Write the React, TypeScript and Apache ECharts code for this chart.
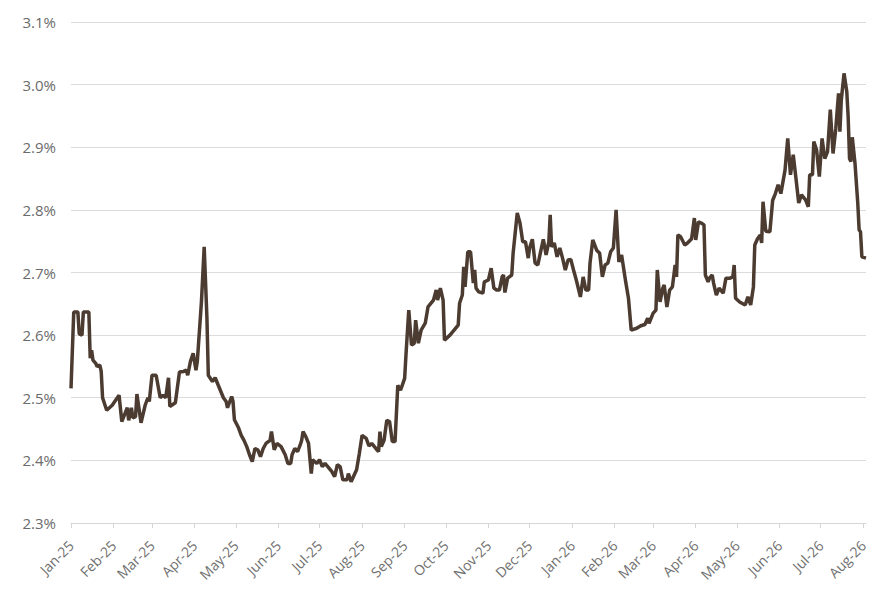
import React, { useEffect, useRef } from "react";
import * as echarts from "echarts";

const DATES: string[] = [
  "2025-01-01","2025-01-03","2025-01-06","2025-01-07","2025-01-09","2025-01-10","2025-01-14","2025-01-15","2025-01-16","2025-01-17",
  "2025-01-19","2025-01-20","2025-01-22","2025-01-23","2025-01-24","2025-01-27","2025-01-31","2025-02-05","2025-02-07","2025-02-11",
  "2025-02-12","2025-02-14","2025-02-15","2025-02-17","2025-02-18","2025-02-21","2025-02-24","2025-02-26","2025-02-27","2025-03-01",
  "2025-03-04","2025-03-07","2025-03-09","2025-03-11","2025-03-13","2025-03-14","2025-03-18","2025-03-21","2025-03-24","2025-03-26",
  "2025-03-27","2025-03-29","2025-03-31","2025-04-02","2025-04-03","2025-04-06","2025-04-08","2025-04-10","2025-04-11","2025-04-14",
  "2025-04-16","2025-04-19","2025-04-22","2025-04-24","2025-04-25","2025-04-28","2025-04-29","2025-04-30","2025-05-03","2025-05-05",
  "2025-05-07","2025-05-09","2025-05-11","2025-05-13","2025-05-15","2025-05-17","2025-05-19","2025-05-21","2025-05-23","2025-05-26",
  "2025-05-27","2025-05-29","2025-05-31","2025-06-03","2025-06-06","2025-06-08","2025-06-10","2025-06-11","2025-06-13","2025-06-15",
  "2025-06-17","2025-06-18","2025-06-19","2025-06-21","2025-06-23","2025-06-25","2025-06-26","2025-06-29","2025-07-01","2025-07-03",
  "2025-07-05","2025-07-07","2025-07-10","2025-07-12","2025-07-14","2025-07-16","2025-07-18","2025-07-21","2025-07-22","2025-07-24",
  "2025-07-28","2025-07-30","2025-08-01","2025-08-04","2025-08-06","2025-08-08","2025-08-11","2025-08-13","2025-08-14","2025-08-15",
  "2025-08-17","2025-08-19","2025-08-21","2025-08-23","2025-08-25","2025-08-27","2025-08-29","2025-09-01","2025-09-02","2025-09-04",
  "2025-09-06","2025-09-08","2025-09-09","2025-09-11","2025-09-13","2025-09-16","2025-09-18","2025-09-22","2025-09-24","2025-09-25",
  "2025-09-27","2025-09-29","2025-09-30","2025-10-04","2025-10-10","2025-10-11","2025-10-13","2025-10-14","2025-10-15","2025-10-17",
  "2025-10-19","2025-10-21","2025-10-22","2025-10-23","2025-10-25","2025-10-28","2025-10-29","2025-11-01","2025-11-03","2025-11-05",
  "2025-11-07","2025-11-09","2025-11-11","2025-11-12","2025-11-13","2025-11-15","2025-11-18","2025-11-19","2025-11-22","2025-11-24",
  "2025-11-26","2025-11-28","2025-11-30","2025-12-01","2025-12-03","2025-12-05","2025-12-07","2025-12-09","2025-12-11","2025-12-13",
  "2025-12-15","2025-12-16","2025-12-17","2025-12-19","2025-12-21","2025-12-23","2025-12-25","2025-12-27","2025-12-29","2025-12-31",
  "2026-01-02","2026-01-04","2026-01-07","2026-01-09","2026-01-11","2026-01-13","2026-01-14","2026-01-16","2026-01-19","2026-01-21",
  "2026-01-23","2026-01-25","2026-01-27","2026-01-29","2026-01-31","2026-02-02","2026-02-04","2026-02-06","2026-02-09","2026-02-11",
  "2026-02-13","2026-02-17","2026-02-20","2026-02-23","2026-02-25","2026-02-26","2026-03-01","2026-03-03","2026-03-04","2026-03-06",
  "2026-03-08","2026-03-09","2026-03-11","2026-03-13","2026-03-15","2026-03-17","2026-03-18","2026-03-19","2026-03-21","2026-03-24",
  "2026-03-26","2026-03-29","2026-03-31","2026-04-01","2026-04-03","2026-04-05","2026-04-07","2026-04-08","2026-04-10","2026-04-11",
  "2026-04-13","2026-04-14","2026-04-16","2026-04-18","2026-04-21","2026-04-23","2026-04-26","2026-04-28","2026-04-29","2026-04-30",
  "2026-05-03","2026-05-07","2026-05-09","2026-05-11","2026-05-13","2026-05-14","2026-05-16","2026-05-18","2026-05-19","2026-05-20",
  "2026-05-22","2026-05-25","2026-05-27","2026-05-29","2026-05-31","2026-06-02","2026-06-05","2026-06-07","2026-06-09","2026-06-11",
  "2026-06-13","2026-06-15","2026-06-17","2026-06-20","2026-06-22","2026-06-23","2026-06-25","2026-06-26","2026-06-28","2026-06-30",
  "2026-07-02","2026-07-04","2026-07-06","2026-07-08","2026-07-10","2026-07-12","2026-07-14","2026-07-15","2026-07-16","2026-07-18",
  "2026-07-20","2026-07-21","2026-07-22","2026-07-23","2026-07-24","2026-07-26","2026-07-28","2026-07-29","2026-07-30","2026-07-31",
  "2026-08-03",
];

const VALUES: number[] = [
  2.515,2.637,2.637,2.602,2.600,2.637,2.637,2.563,2.576,2.560,
  2.555,2.550,2.552,2.542,2.500,2.480,2.488,2.504,2.462,2.484,
  2.464,2.484,2.468,2.470,2.506,2.460,2.488,2.500,2.494,2.536,
  2.536,2.500,2.504,2.500,2.532,2.486,2.492,2.541,2.542,2.544,
  2.536,2.558,2.571,2.544,2.558,2.653,2.741,2.627,2.536,2.526,
  2.532,2.516,2.500,2.494,2.484,2.502,2.494,2.465,2.452,2.440,
  2.432,2.422,2.409,2.398,2.419,2.417,2.406,2.419,2.427,2.432,
  2.446,2.417,2.427,2.422,2.409,2.395,2.395,2.409,2.419,2.414,
  2.425,2.432,2.446,2.438,2.427,2.379,2.401,2.395,2.401,2.390,
  2.395,2.390,2.382,2.374,2.393,2.390,2.369,2.369,2.379,2.366,
  2.385,2.411,2.440,2.435,2.423,2.427,2.419,2.414,2.446,2.422,
  2.432,2.464,2.462,2.430,2.430,2.520,2.512,2.531,2.570,2.640,
  2.584,2.587,2.624,2.587,2.608,2.619,2.645,2.656,2.672,2.656,
  2.675,2.656,2.592,2.600,2.616,2.651,2.664,2.709,2.677,2.733,
  2.733,2.683,2.704,2.675,2.669,2.667,2.685,2.688,2.707,2.675,
  2.672,2.672,2.693,2.696,2.668,2.691,2.696,2.731,2.795,2.779,
  2.749,2.749,2.723,2.739,2.753,2.715,2.712,2.733,2.753,2.728,
  2.749,2.792,2.741,2.747,2.725,2.739,2.723,2.704,2.720,2.721,
  2.704,2.688,2.661,2.693,2.672,2.672,2.715,2.752,2.735,2.731,
  2.693,2.712,2.715,2.733,2.739,2.800,2.717,2.728,2.685,2.659,
  2.608,2.611,2.615,2.617,2.627,2.619,2.635,2.640,2.704,2.653,
  2.675,2.680,2.645,2.672,2.677,2.712,2.693,2.760,2.757,2.744,
  2.747,2.754,2.787,2.752,2.781,2.779,2.776,2.696,2.685,2.691,
  2.696,2.683,2.664,2.675,2.667,2.691,2.691,2.693,2.712,2.659,
  2.653,2.648,2.661,2.648,2.677,2.744,2.754,2.760,2.747,2.813,
  2.766,2.765,2.815,2.826,2.840,2.826,2.863,2.914,2.856,2.888,
  2.850,2.811,2.824,2.816,2.805,2.856,2.856,2.909,2.896,2.853,
  2.914,2.882,2.893,2.960,2.890,2.930,2.986,2.925,2.975,3.018,
  2.989,2.949,2.882,2.877,2.916,2.874,2.811,2.768,2.765,2.725,
  2.723,
];

const MONTH_LABELS: string[] = ["Jan","Feb","Mar","Apr","May","Jun","Jul","Aug","Sep","Oct","Nov","Dec"];
const Y_MIN = 2.3;
const Y_MAX = 3.1;
const Y_STEP = 0.1;

export default function App() {
  const ref = useRef<HTMLDivElement>(null);
  useEffect(() => {
    document.body.style.margin = "0";
    if (!ref.current) return;
    const chart = echarts.init(ref.current, undefined, { renderer: "svg" });
    const DAY = 86400000;
    chart.setOption({
      animation: false,
      backgroundColor: "#ffffff",
      textStyle: { fontFamily: "'Open Sans', sans-serif" },
      grid: { left: 71, right: 9, top: 22, bottom: 77, containLabel: false },
      xAxis: {
        type: "time",
        min: DATES[0],
        max: DATES[DATES.length - 1],
        splitNumber: 20,
        minInterval: 28 * DAY,
        maxInterval: 31 * DAY,
        axisLine: { show: true, lineStyle: { color: "#d6d6d6", width: 1 } },
        axisTick: { show: true, length: 5, lineStyle: { color: "#d6d6d6" } },
        splitLine: { show: false },
        axisLabel: {
          rotate: 45,
          color: "#707070",
          fontSize: 14,
          fontWeight: "normal",
          margin: 20,
          hideOverlap: false,
          formatter: (v: number) => {
            const d = new Date(v);
            return MONTH_LABELS[d.getMonth()] + "-" + String(d.getFullYear() % 100).padStart(2, "0");
          },
        },
      },
      yAxis: {
        type: "value",
        min: Y_MIN,
        max: Y_MAX,
        interval: Y_STEP,
        axisLine: { show: false },
        axisTick: { show: false },
        splitLine: { lineStyle: { color: "#dcdcdc", width: 1 } },
        axisLabel: {
          color: "#6b6b6b",
          fontSize: 15,
          margin: 15,
          formatter: (v: number) => v.toFixed(1) + "%",
        },
      },
      series: [
        {
          type: "line",
          data: DATES.map((d, i) => [d, VALUES[i]]),
          showSymbol: false,
          symbol: "none",
          lineStyle: { color: "#4b3b30", width: 3.5 },
          itemStyle: { color: "#4b3b30" },
        },
      ],
    });
    return () => chart.dispose();
  }, []);
  return <div ref={ref} style={{ width: 875, height: 600 }} />;
}
